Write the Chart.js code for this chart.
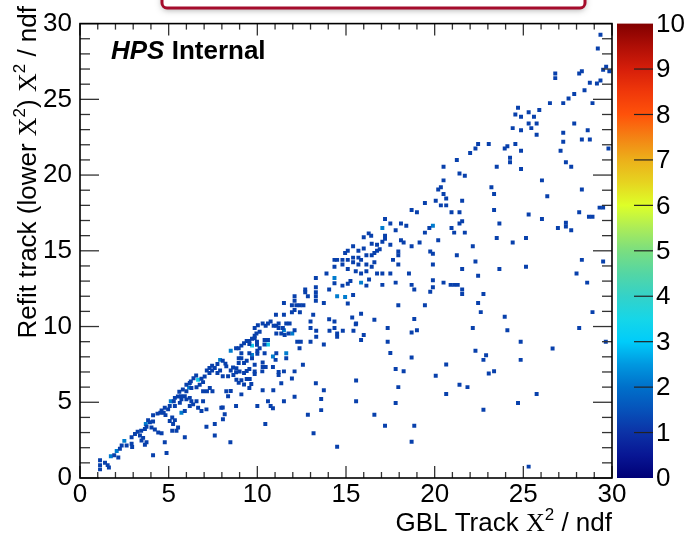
<!DOCTYPE html>
<html><head><meta charset="utf-8">
<script src="https://cdn.jsdelivr.net/npm/chart.js@4.4.0/dist/chart.umd.min.js"></script>
<style>html,body{margin:0;padding:0;background:#fff;overflow:hidden}#wrap{width:693px;height:536px}</style>
</head><body><div id="wrap"><canvas id="c" width="693" height="536"></canvas></div>
<script>
// ---- data: bins [GBL chi2/ndf, Refit chi2/ndf] grouped by bin content ----
const bins1 = [
[1.13,1.17],[1.13,0.85],[1.13,0.57],[1.41,1.0],[1.56,0.85],[1.63,0.7],[1.93,1.5],[2.16,1.35],[2.25,1.93],[2.35,2.15],[2.63,2.15],[2.91,2.26],[2.94,2.04],[2.91,2.69],[3.1,2.91],[3.25,3.05],[3.45,3.12],[3.66,3.23],[3.75,3.38],[3.38,2.8],[3.56,2.65],[3.47,2.47],[3.75,2.36],[3.66,2.2],[3.84,3.82],[3.94,3.68],[4.12,3.73],[4.12,4.14],[4.03,3.34],[4.22,3.2],[4.41,3.01],[4.6,2.95],[4.78,2.36],[4.12,1.5],[4.88,1.65],[4.37,4.25],[4.53,4.31],[4.6,4.45],[4.72,4.31],[4.78,4.64],[4.82,4.15],[4.97,4.53],
[5.06,4.75],[5.2,3.99],[5.25,3.56],[5.35,3.82],[5.53,3.34],[5.44,3.12],[5.2,3.12],[5.06,3.77],[5.29,5.07],[5.35,5.29],[5.52,5.38],[5.7,5.4],[5.72,5.19],[5.91,5.4],[6.0,5.73],[6.28,5.94],[6.0,6.16],[6.19,6.27],[5.91,4.42],[6.19,4.75],[6.38,4.86],[5.91,2.69],[5.35,4.75],[5.63,4.96],[6.0,5.19],[6.19,5.29],[6.28,5.07],[6.57,5.07],[6.66,4.64],[6.94,5.07],[6.85,4.42],[7.13,4.53],[7.97,4.64],[8.16,4.21],[8.06,3.88],[7.6,3.56],[7.13,3.38],[7.6,2.8],[8.48,2.36],[7.03,6.7],[6.85,6.55],[6.94,6.33],[6.75,6.16],[6.57,5.99],[7.32,5.94],[7.47,5.73],[7.16,5.73],[6.94,5.73],[8.25,5.73],[8.35,5.4],[6.55,6.77],[6.4,6.59],[6.25,6.38],[5.8,5.84],[5.6,5.7],
[8.05,7.74],[8.2,7.55],[7.75,7.52],[7.45,7.41],[7.3,7.26],[7.6,7.26],[7.15,7.1],[7.45,7.1],[7.3,6.93],[7.75,6.93],[7.9,7.1],[8.05,6.72],[8.35,6.72],[8.25,7.37],[8.5,7.1],[8.8,6.98],[8.65,6.8],[9.25,6.93],[9.55,7.2],[9.4,7.06],[8.95,6.28],[9.1,6.45],[9.4,6.54],[9.25,6.17],[8.5,5.74],[9.55,5.94],[9.1,5.52],[8.05,4.65],[8.8,4.76],[8.63,7.29],[8.82,7.24],[9.0,7.03],[9.85,7.03],[8.82,6.49],[9.66,6.2],[9.57,6.53],[9.85,9.39],[9.7,9.2],[9.55,9.05],[9.4,9.05],[9.25,8.9],[9.55,8.85],[9.1,8.74],[8.95,8.56],[8.8,8.56],[9.1,8.24],[9.55,8.24],[9.7,7.91],[10.0,8.4],[10.0,8.2],[8.95,7.91],[9.1,7.91],[8.95,7.59],[9.25,7.59],[9.4,7.74],
[9.85,9.22],[9.95,9.54],[10.13,9.65],[9.98,9.0],[9.98,8.79],[10.13,8.56],[10.41,9.11],[10.6,9.11],[10.4,8.82],[9.85,9.91],[10.03,10.09],[10.3,10.2],[10.47,10.05],[10.6,10.2],[10.92,10.05],[11.07,10.05],[11.2,10.2],[11.2,9.91],[11.44,9.91],[11.63,10.2],[11.82,10.2],[12.1,9.76],[13.0,9.91],[13.32,9.72],[14.07,9.72],[14.35,9.91],[14.5,9.54],[14.5,9.33],[14.82,9.72],[15.42,9.72],[15.57,10.2],[16.0,9.44],[15.85,9.11],[11.07,9.54],[11.35,9.54],[11.54,9.44],[11.76,9.54],[12.38,8.56],[12.25,9.0],[12.45,9.0],[13.0,9.0],[13.32,9.33],[13.75,8.82],[11.63,7.91],[11.07,8.24],[11.03,7.8],[10.41,8.24],[11.2,7.0],[11.2,6.8],[11.5,7.04],[12.1,7.04],[12.57,7.48],[10.88,7.33],[10.47,7.33],[10.3,7.33],[10.3,7.63],[9.85,7.48],[9.85,6.87],[10.28,7.04],[11.95,6.57],[11.35,6.26],[13.3,6.26],[13.75,5.8],[10.3,5.8],[10.9,5.8],[12.1,5.37],[13.6,5.22],[15.57,6.44],[10.6,5.07],[11.5,5.07],[15.57,5.07],[13.6,4.48],[10.0,4.76],[10.75,4.76],[10.88,4.6],[12.85,4.17],[16.6,4.17],[10.45,3.57],[13.17,2.96],[14.5,2.07],
[14.35,12.86],[14.05,12.44],[12.7,12.44],[12.7,12.26],[12.85,12.0],[13.3,12.59],[13.3,12.26],[13.3,12.0],[13.3,11.7],[13.75,11.55],[12.1,12.0],[11.5,11.55],[11.95,11.4],[12.1,11.7],[12.2,11.4],[12.4,11.4],[12.6,11.4],[12.1,11.09],[11.95,10.94],[12.4,10.94],[11.05,10.78],[11.5,10.78],[13.15,10.78],[14.05,10.48],[13.0,10.33],[14.35,10.33],[10.75,10.33],
[16.0,15.9],[16.28,16.15],[16.42,16.0],[16.75,15.4],[16.45,15.46],[15.4,15.3],[16.0,15.15],[15.7,15.0],[15.1,15.0],[14.95,14.85],[16.6,14.85],[16.75,15.0],[16.15,14.7],[16.45,14.7],[15.4,14.55],[15.7,14.55],[14.35,14.4],[14.5,14.4],[14.8,14.4],[15.1,14.4],[15.4,14.24],[15.85,14.4],[16.6,14.24],[14.8,14.1],[14.35,13.95],[15.1,13.8],[15.7,14.1],[16.15,14.1],[16.45,13.95],[13.9,13.5],[13.3,13.2],[15.55,13.65],[15.85,13.5],[16.15,13.65],[16.3,13.1],[16.75,13.5],[15.25,13.0],
[15.1,12.82],[14.8,12.7],[15.4,12.08],[15.1,11.52],[15.85,10.85],[15.35,10.6],[16.6,10.45],[15.55,10.15],[16.15,12.7],
[29.35,29.27],[29.2,28.35],[29.67,27.15],[29.5,26.95],[29.85,26.85],[26.8,26.7],[26.8,26.4],[28.15,26.7],[28.3,26.85],[29.35,26.25],[29.15,26.05],[28.75,26.1],[28.45,25.6],[27.87,25.35],[27.55,25.05],[27.25,24.75],[26.5,24.75],[28.9,24.75],[24.7,24.45],[24.55,24.0],[24.87,23.85],[25.9,24.3],[25.3,24.15],[25.6,23.85],[25.3,23.4],[25.75,23.4],[24.4,23.1],[24.87,22.96],[25.45,23.1],[25.75,22.66],[27.87,23.4],[27.25,22.8],[27.25,22.2],[28.63,22.96],[28.3,22.35],[28.75,22.35],[29.8,21.75],[27.1,21.6],[22.45,22.05],[23.05,22.05],[22.3,21.75],[22.0,21.45],[24.55,22.05],[24.1,21.9],[23.95,21.75],[24.87,21.6],[24.25,21.15],[24.25,20.85],[24.87,20.4],[23.5,20.55],[21.25,21.0],[20.5,20.55],[21.4,20.1],[21.7,19.95],[27.4,20.85],[27.7,20.55],[26.05,19.65],[20.5,19.65],[20.35,19.2],[20.2,19.05],[20.5,18.75],[20.06,18.3],[20.35,18.0],[20.65,18.0],[20.65,18.45],[19.45,18.15],[21.55,18.3],[23.2,19.2],[23.35,18.75],[26.35,18.6],[28.3,19.05],[18.7,17.7],[19.0,17.55],[20.95,17.55],[21.4,17.55],[23.35,17.7],[25.3,17.4],[28.15,17.55],[29.3,17.85],[29.5,17.85],[28.7,17.25],[28.9,17.25],[26.05,17.1],[17.2,17.1],[17.5,16.8],[18.1,16.8],[18.4,16.65],[17.8,16.35],[19.7,16.5],[20.95,16.5],[21.4,16.8],[21.55,16.95],[19.45,16.2],[21.1,16.2],[21.7,16.2],[23.65,16.8],[26.95,16.5],[27.4,16.85],[27.4,16.6],[27.7,16.35],[17.2,16.0],[17.2,15.8],[17.05,15.6],[16.9,15.1],[17.5,15.4],[18.1,15.7],[18.25,15.55],[19.15,15.55],[18.7,15.3],[20.2,15.7],[23.5,15.85],[25.15,15.85],[24.4,15.55],[22.15,15.3],[17.95,14.95],[17.95,14.7],[19.75,14.95],[19.9,14.8],[21.25,14.7],[17.65,14.4],[22.3,14.3],[28.3,14.4],[29.5,14.3],
[17.95,14.1],[19.9,14.1],[21.55,13.8],[23.65,13.8],[25.15,13.95],[17.05,13.5],[17.5,13.5],[18.55,13.5],[22.45,13.35],[28.0,13.5],[19.9,13.05],[19.9,12.6],[20.5,12.9],[20.9,12.75],[21.1,12.75],[21.3,12.75],[17.05,12.75],[17.8,12.9],[18.7,12.75],[18.85,12.45],[19.75,12.3],[21.55,12.45],[21.55,12.15],[22.75,12.15],[28.6,12.9],[17.95,11.4],[19.45,11.4],[22.45,11.55],[22.6,10.95],[23.95,10.65],[28.9,10.95],[18.85,10.5],[17.35,9.9],[18.7,9.6],[19.0,9.75],[22.15,9.9],[24.1,9.75],[28.15,9.9],[17.35,9.0],[24.85,9.0],[29.65,9.0],[26.65,8.55],[17.5,8.25],[22.3,8.4],[18.7,7.95],[22.75,7.8],[22.9,8.1],[24.85,7.8],[20.65,7.5],[17.8,7.2],[18.25,7.05],[23.05,6.9],[23.35,7.05],[20.06,6.75],[17.95,6.0],[21.4,6.15],[21.85,6.0],[20.65,5.55],[25.75,5.55],[17.8,4.95],[24.7,4.95],[22.75,4.5],[17.2,3.45],[18.85,3.45],[18.7,2.4],[25.3,0.75]
];
const bins2 = [[1.74,1.43],[2.07,1.78],[2.5,2.45],[3.71,3.56],[5.12,5.07],[5.72,4.31],[6.15,5.98],[7.9,7.8],[8.5,8.4],[9.7,8.13],[11.5,9.76],[11.97,9.54],[11.63,8.24],[10.88,8.02],[14.5,12.0],[14.95,11.95],[14.35,13.2],[15.85,12.9],[19.9,16.65],[17.05,16.5]];
const bins3 = [[6.66,6.49],[9.7,8.74],[10.6,8.82]];
const xTickLabels = ['0','5','10','15','20','25','30'];
const yTickLabels = ['0','5','10','15','20','25','30'];
const zTickLabels = ['0','1','2','3','4','5','6','7','8','9','10'];

// palette (z = 0..10)
const paletteStops = [
 [0,'rgb(0,0,118)'],[0.5,'rgb(8,22,148)'],[1,'rgb(12,50,166)'],[1.5,'rgb(6,82,186)'],[2,'rgb(0,112,202)'],
 [2.5,'rgb(0,152,224)'],[3,'rgb(0,204,250)'],[3.5,'rgb(22,214,232)'],[4,'rgb(52,210,200)'],[4.5,'rgb(84,214,164)'],
 [5,'rgb(122,222,128)'],[5.5,'rgb(172,236,88)'],[6,'rgb(222,255,40)'],[6.5,'rgb(230,212,32)'],[7,'rgb(236,176,26)'],
 [7.5,'rgb(244,130,20)'],[8,'rgb(255,82,10)'],[8.5,'rgb(240,56,10)'],[9,'rgb(214,30,10)'],[9.5,'rgb(174,14,6)'],[10,'rgb(130,0,0)']
];
const binColors = ['rgb(8,64,172)','rgb(0,124,206)','rgb(20,200,232)'];

const SANS = '"Liberation Sans", Arial, Helvetica, sans-serif';
const SERIF = '"Liberation Serif", "Times New Roman", serif';
const FS = 26;

function drawRich(ctx, segs, x, y, align){
  let w = 0;
  for (const s of segs){ ctx.font = s.font; s.w = ctx.measureText(s.t).width; w += s.w; }
  let cx = align === 'right' ? x - w : x;
  ctx.textAlign = 'left'; ctx.textBaseline = 'alphabetic';
  for (const s of segs){ ctx.font = s.font; ctx.fillText(s.t, cx, y - (s.dy||0)); cx += s.w; }
}

const decor = {
  id: 'decor',
  beforeDraw(chart){
    const c = chart.ctx; c.save(); c.fillStyle = '#fff'; c.fillRect(0,0,chart.width,chart.height); c.restore();
  },
  afterDraw(chart){
    const ctx = chart.ctx, a = chart.chartArea, xs = chart.scales.x, ys = chart.scales.y;
    ctx.save();
    const line = (x1,y1,x2,y2)=>{ctx.beginPath();ctx.moveTo(x1,y1);ctx.lineTo(x2,y2);ctx.stroke();};
    // ticks (inward, all four sides)
    ctx.strokeStyle = '#333'; ctx.lineWidth = 1.3;
    for (let v = 0; v <= 30; v++){
      const major = v % 5 === 0;
      const px = xs.getPixelForValue(v), L = major ? 12 : 6;
      line(px, a.bottom, px, a.bottom - L); line(px, a.top, px, a.top + L);
      const py = ys.getPixelForValue(v), M = major ? 19 : 10;
      line(a.left, py, a.left + M, py); line(a.right, py, a.right - M, py);
    }
    // frame
    ctx.strokeStyle = '#000'; ctx.lineWidth = 1.6;
    ctx.strokeRect(a.left, a.top, a.right - a.left, a.bottom - a.top);

    // colour bar (z mapped onto the y scale range)
    const zPix = v => ys.getPixelForValue(v * 3);
    const bx0 = a.right + 5, bx1 = a.right + 41;
    const g = ctx.createLinearGradient(0, zPix(0), 0, zPix(10));
    for (const [v,c] of paletteStops) g.addColorStop(v/10, c);
    ctx.fillStyle = g;
    ctx.fillRect(bx0, zPix(10), bx1 - bx0, zPix(0) - zPix(10));
    ctx.strokeStyle = '#222'; ctx.lineWidth = 1.2;
    ctx.fillStyle = '#000'; ctx.font = FS + 'px ' + SANS; ctx.textAlign = 'left'; ctx.textBaseline = 'middle';
    zTickLabels.forEach((t,i)=>{
      const py = zPix(i);
      if (i > 0 && i < 10) line(bx1 - 19, py, bx1, py);
      ctx.fillText(t, bx1 + 3, py + 1);
    });

    // HPS Internal
    ctx.fillStyle = '#000'; ctx.textAlign = 'left'; ctx.textBaseline = 'alphabetic';
    ctx.font = 'italic bold ' + FS + 'px ' + SANS;
    ctx.fillText('HPS', 111, 59);
    const wH = ctx.measureText('HPS ').width;
    ctx.font = 'bold ' + FS + 'px ' + SANS;
    ctx.fillText('Internal', 111 + wH, 59);

    // axis titles
    const f = FS + 'px ' + SANS, fs = FS + 'px ' + SERIF, fsup = '17px ' + SANS;
    drawRich(ctx, [
      {t:'GBL Track ', font:f},
      {t:'\u03A7', font:fs},
      {t:'2', font:fsup, dy:11},
      {t:' / ndf', font:f}
    ], a.right, 531, 'right');
    ctx.save();
    ctx.translate(36, 6); ctx.rotate(-Math.PI/2);
    drawRich(ctx, [
      {t:'Refit track (lower ', font:f},
      {t:'\u03A7', font:fs},
      {t:'2', font:fsup, dy:11},
      {t:') ', font:f},
      {t:'\u03A7', font:fs},
      {t:'2', font:fsup, dy:11},
      {t:' / ndf', font:f}
    ], 0, 0, 'right');
    ctx.restore();

    // header box (cut at top of canvas)
    ctx.save();
    ctx.shadowColor = 'rgba(0,0,0,0.35)'; ctx.shadowBlur = 6; ctx.shadowOffsetY = 2;
    ctx.fillStyle = '#fff';
    ctx.beginPath(); ctx.roundRect(162, -30, 423, 38, 5); ctx.fill();
    ctx.restore();
    ctx.strokeStyle = '#a50d2c'; ctx.lineWidth = 3;
    ctx.beginPath(); ctx.roundRect(162, -30, 423, 38, 5); ctx.stroke();
    ctx.restore();
  }
};

const toPts = arr => arr.map(([x,y]) => ({x, y}));
const ds = (arr, col) => ({data: toPts(arr), backgroundColor: col, borderWidth: 0, pointStyle: 'rect', pointRadius: 2.8, pointHoverRadius: 2.8});

new Chart(document.getElementById('c'), {
  type: 'scatter',
  data: { datasets: [ ds(bins1, binColors[0]), ds(bins2, binColors[1]), ds(bins3, binColors[2]) ] },
  options: {
    responsive: false, animation: false, devicePixelRatio: 1,
    layout: { padding: { top: 17, right: 81, left: 0, bottom: 0 } },
    plugins: { legend: { display: false }, tooltip: { enabled: false } },
    scales: {
      x: {
        type: 'linear', min: 0, max: 30,
        grid: { display: false, drawTicks: false }, border: { display: false },
        ticks: { stepSize: 5, autoSkip: false, maxRotation: 0, padding: 1, color: '#000',
                 font: { family: SANS, size: FS }, callback: (v, i) => xTickLabels[i] },
        afterFit: s => { s.height = 58; }
      },
      y: {
        type: 'linear', min: 0, max: 30,
        grid: { display: false, drawTicks: false }, border: { display: false },
        ticks: { stepSize: 5, autoSkip: false, padding: 8, color: '#000',
                 font: { family: SANS, size: FS }, callback: (v, i) => yTickLabels[i] },
        afterFit: s => { s.width = 80; }
      }
    }
  },
  plugins: [decor]
});
</script>
</body></html>
